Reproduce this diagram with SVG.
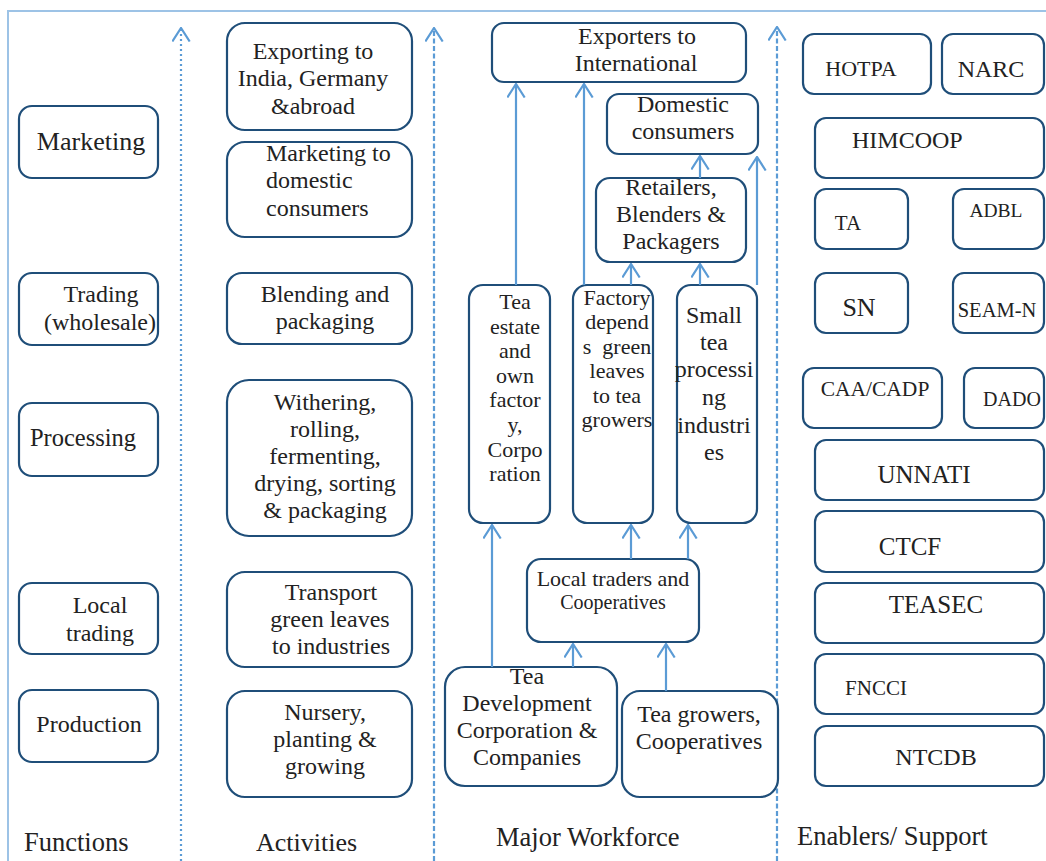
<svg xmlns="http://www.w3.org/2000/svg" width="1046" height="861" viewBox="0 0 1046 861">
<defs>
<style>
.b{fill:#fff;stroke:#1f4e79;stroke-width:2.2}
.t{font-family:"Liberation Serif","Times New Roman",serif;fill:#222;font-size:24px;text-anchor:middle}
.l{text-anchor:start}
.c{stroke:#5b9bd5;stroke-width:2.2;fill:none}
.frame{stroke:#9dc3e6;stroke-width:2;fill:none}
</style>
<marker id="ah" viewBox="0 0 15 19" refX="14" refY="9.5" markerWidth="15" markerHeight="19" markerUnits="userSpaceOnUse" orient="auto">
<path d="M0.5,0.8 L14,9.5 L0.5,18.2" fill="none" stroke="#5b9bd5" stroke-width="2.2"/>
</marker>
</defs>
<rect width="1046" height="861" fill="#fff"/>
<g id="frame">
<path class="frame" d="M1046,11 H8 V861"/>
</g>
<g id="dividers">
<line class="c" x1="181" y1="861" x2="181" y2="28" stroke-dasharray="2,3" marker-end="url(#ah)"/>
<line class="c" x1="434" y1="861" x2="434" y2="28" stroke-dasharray="5,2.5" marker-end="url(#ah)"/>
<line class="c" x1="777" y1="861" x2="777" y2="27" stroke-dasharray="5,2.5" marker-end="url(#ah)"/>
</g>
<g id="fn-marketing"><rect class="b" x="19" y="106" width="139" height="72" rx="13"/><text class="t" x="91" y="150" style="font-size:26px">Marketing</text></g>
<g id="fn-trading"><rect class="b" x="19" y="273" width="139" height="72" rx="13"/><text class="t" x="101" y="302">Trading</text><text class="t" x="100" y="330">(wholesale)</text></g>
<g id="fn-processing"><rect class="b" x="19" y="403" width="139" height="73" rx="13"/><text class="t" x="83" y="446" style="font-size:24.5px">Processing</text></g>
<g id="fn-local"><rect class="b" x="19" y="583" width="139" height="71" rx="13"/><text class="t" x="100" y="613">Local</text><text class="t" x="100" y="641">trading</text></g>
<g id="fn-production"><rect class="b" x="19" y="690" width="139" height="72" rx="13"/><text class="t" x="89" y="732">Production</text></g>

<g id="act-export"><rect class="b" x="227" y="23" width="185" height="107" rx="18"/><text class="t" x="313" y="59">Exporting to</text><text class="t" x="313" y="86">India, Germany</text><text class="t" x="313" y="114">&amp;abroad</text></g>
<g id="act-domestic"><rect class="b" x="227" y="142" width="185" height="95" rx="18"/><text class="t l" x="266" y="161">Marketing to</text><text class="t l" x="266" y="188">domestic</text><text class="t l" x="266" y="216">consumers</text></g>
<g id="act-blending"><rect class="b" x="227" y="273" width="185" height="71" rx="15"/><text class="t" x="325" y="302">Blending and</text><text class="t" x="325" y="329">packaging</text></g>
<g id="act-withering"><rect class="b" x="227" y="380" width="185" height="156" rx="22"/><text class="t" x="325" y="410">Withering,</text><text class="t" x="325" y="437">rolling,</text><text class="t" x="325" y="464">fermenting,</text><text class="t" x="325" y="491">drying, sorting</text><text class="t" x="325" y="518">&amp; packaging</text></g>
<g id="act-transport"><rect class="b" x="227" y="572" width="185" height="95" rx="18"/><text class="t" x="331" y="600">Transport</text><text class="t" x="330" y="627">green leaves</text><text class="t" x="331" y="654">to industries</text></g>
<g id="act-nursery"><rect class="b" x="227" y="691" width="185" height="106" rx="18"/><text class="t" x="325" y="720">Nursery,</text><text class="t" x="325" y="747">planting &amp;</text><text class="t" x="325" y="774">growing</text></g>

<g id="wf-exporters"><rect class="b" x="492" y="23" width="254" height="59" rx="12"/><text class="t" x="637" y="44">Exporters to</text><text class="t" x="636" y="71">International</text></g>
<g id="wf-domestic"><rect class="b" x="607" y="94" width="151" height="60" rx="12"/><text class="t" x="683" y="112">Domestic</text><text class="t" x="683" y="139">consumers</text></g>
<g id="wf-retailers"><rect class="b" x="596" y="178" width="150" height="84" rx="14"/><text class="t" x="671" y="195">Retailers,</text><text class="t" x="671" y="222">Blenders &amp;</text><text class="t" x="671" y="249">Packagers</text></g>
<g id="wf-estate"><rect class="b" x="469" y="285" width="81" height="238" rx="14"/>
<g class="t" style="font-size:22px"><text x="515" y="309">Tea</text><text x="515" y="334">estate</text><text x="515" y="358">and</text><text x="515" y="383">own</text><text x="515" y="407">factor</text><text x="515" y="432">y,</text><text x="515" y="457">Corpo</text><text x="515" y="481">ration</text></g></g>
<g id="wf-factory"><rect class="b" x="573" y="285" width="80" height="238" rx="14"/>
<g class="t" style="font-size:22px"><text x="617" y="305">Factory</text><text x="617" y="329">depend</text><text x="617" y="354">s&#160; green</text><text x="617" y="378">leaves</text><text x="617" y="403">to tea</text><text x="617" y="427">growers</text></g></g>
<g id="wf-small"><rect class="b" x="677" y="285" width="80" height="238" rx="14"/>
<g class="t"><text x="714" y="323">Small</text><text x="714" y="350">tea</text><text x="714" y="377">processi</text><text x="714" y="405">ng</text><text x="714" y="433">industri</text><text x="714" y="460">es</text></g></g>
<g id="wf-local"><rect class="b" x="527" y="559" width="172" height="83" rx="14"/><text class="t" x="613" y="586" style="font-size:22px">Local traders and</text><text class="t" x="613" y="609" style="font-size:20px">Cooperatives</text></g>
<g id="wf-teadev"><rect class="b" x="445" y="667" width="172" height="119" rx="20"/><text class="t" x="527" y="684">Tea</text><text class="t" x="527" y="711">Development</text><text class="t" x="527" y="738">Corporation &amp;</text><text class="t" x="527" y="765">Companies</text></g>
<g id="wf-growers"><rect class="b" x="622" y="691" width="156" height="106" rx="18"/><text class="t" x="699" y="722">Tea growers,</text><text class="t" x="699" y="749">Cooperatives</text></g>

<g id="en-hotpa"><rect class="b" x="803" y="34" width="128" height="60" rx="11"/><text class="t" x="861" y="76" style="font-size:22px">HOTPA</text></g>
<g id="en-narc"><rect class="b" x="942" y="34" width="102" height="60" rx="11"/><text class="t" x="991" y="77">NARC</text></g>
<g id="en-himcoop"><rect class="b" x="815" y="118" width="229" height="60" rx="11"/><text class="t l" x="852" y="148">HIMCOOP</text></g>
<g id="en-ta"><rect class="b" x="815" y="189" width="93" height="60" rx="11"/><text class="t" x="848" y="230" style="font-size:21px">TA</text></g>
<g id="en-adbl"><rect class="b" x="953" y="189" width="91" height="60" rx="11"/><text class="t" x="996" y="217" style="font-size:19.5px">ADBL</text></g>
<g id="en-sn"><rect class="b" x="815" y="273" width="93" height="60" rx="11"/><text class="t" x="859" y="316" style="font-size:26px">SN</text></g>
<g id="en-seam"><rect class="b" x="953" y="273" width="91" height="60" rx="11"/><text class="t" x="997" y="317" style="font-size:20.5px">SEAM-N</text></g>
<g id="en-caa"><rect class="b" x="803" y="368" width="139" height="60" rx="11"/><text class="t" x="875" y="396" style="font-size:21.5px">CAA/CADP</text></g>
<g id="en-dado"><rect class="b" x="964" y="368" width="80" height="60" rx="11"/><text class="t" x="1012" y="406" style="font-size:20px">DADO</text></g>
<g id="en-unnati"><rect class="b" x="815" y="440" width="229" height="60" rx="11"/><text class="t" x="924" y="483" style="font-size:25px">UNNATI</text></g>
<g id="en-ctcf"><rect class="b" x="815" y="511" width="229" height="61" rx="11"/><text class="t" x="910" y="555" style="font-size:25px">CTCF</text></g>
<g id="en-teasec"><rect class="b" x="815" y="583" width="229" height="60" rx="11"/><text class="t" x="936" y="613" style="font-size:25px">TEASEC</text></g>
<g id="en-fncci"><rect class="b" x="815" y="654" width="229" height="60" rx="11"/><text class="t" x="876" y="695" style="font-size:21px">FNCCI</text></g>
<g id="en-ntcdb"><rect class="b" x="815" y="726" width="229" height="60" rx="11"/><text class="t" x="936" y="765">NTCDB</text></g>

<g id="connectors">
<line class="c" x1="516" y1="285" x2="516" y2="84" marker-end="url(#ah)"/>
<line class="c" x1="584" y1="285" x2="584" y2="84" marker-end="url(#ah)"/>
<line class="c" x1="631" y1="285" x2="631" y2="264" marker-end="url(#ah)"/>
<line class="c" x1="700" y1="285" x2="700" y2="264" marker-end="url(#ah)"/>
<line class="c" x1="700" y1="178" x2="700" y2="156" marker-end="url(#ah)"/>
<line class="c" x1="757" y1="285" x2="757" y2="157" marker-end="url(#ah)"/>
<line class="c" x1="492" y1="667" x2="492" y2="525" marker-end="url(#ah)"/>
<line class="c" x1="573" y1="667" x2="573" y2="644" marker-end="url(#ah)"/>
<line class="c" x1="666" y1="691" x2="666" y2="644" marker-end="url(#ah)"/>
<line class="c" x1="631" y1="559" x2="631" y2="525" marker-end="url(#ah)"/>
<line class="c" x1="688" y1="559" x2="688" y2="525" marker-end="url(#ah)"/>
</g>
<g id="labels">
<text class="t l" x="24" y="851" style="font-size:26.5px">Functions</text>
<text class="t l" x="256" y="851" style="font-size:26px">Activities</text>
<text class="t l" x="496" y="846" style="font-size:26.5px">Major Workforce</text>
<text class="t l" x="797" y="845" style="font-size:26.5px">Enablers/ Support</text>
</g>
</svg>
